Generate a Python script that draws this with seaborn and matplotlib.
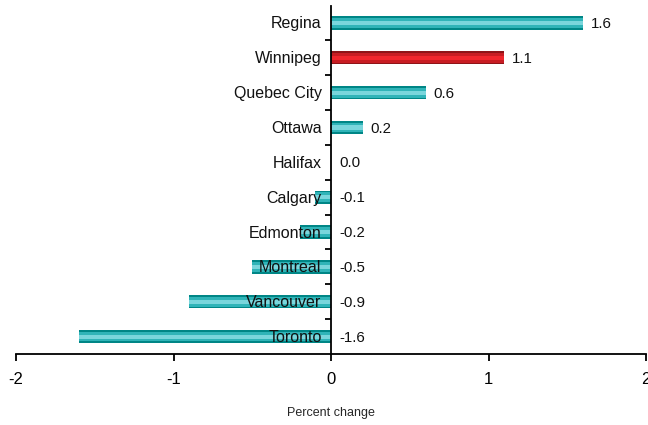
import matplotlib
matplotlib.use("Agg")
import matplotlib.pyplot as plt
import seaborn as sns
import numpy as np

cities = ["Regina", "Winnipeg", "Quebec City", "Ottawa", "Halifax",
          "Calgary", "Edmonton", "Montreal", "Vancouver", "Toronto"]
change = [1.6, 1.1, 0.6, 0.2, 0.0, -0.1, -0.2, -0.5, -0.9, -1.6]
highlight = "Winnipeg"
x_ticks = [-2, -1, 0, 1, 2]

sns.set_theme(style="white")
plt.rcParams["font.family"] = ["Liberation Sans", "DejaVu Sans"]

fig = plt.figure(figsize=(6.48, 4.25), dpi=100)
ax = fig.add_axes([0.0247, 0.167, 0.9723, 0.820])

# layered bars give the striped cylinder look
layers = [
    (0.38, "#008686", "#8e1418"),
    (0.28, "#30b4b8", "#c81d23"),
    (0.12, "#7ad6dc", "#f0262d"),
]
for width, teal, red in layers:
    pal = {c: (red if c == highlight else teal) for c in cities}
    sns.barplot(x=change, y=cities, hue=cities, palette=pal, orient="h",
                width=width, dodge=False, legend=False, ax=ax, saturation=1,
                order=cities, hue_order=cities, linewidth=0, edgecolor="none")

ax.set_xlim(-2, 2)
ax.set_ylim(len(cities) - 0.5, -0.5)
ax.set_xticks(x_ticks)
ax.set_xticklabels([str(t) for t in x_ticks], fontsize=12)
ax.set_xlabel("Percent change", fontsize=9, labelpad=14)
ax.set_ylabel("")

for s in ["top", "right"]:
    ax.spines[s].set_visible(False)
ax.spines["left"].set_position(("data", 0))
for s in ["left", "bottom"]:
    ax.spines[s].set_color("black")
    ax.spines[s].set_linewidth(1.3)

ax.tick_params(axis="x", which="major", direction="out", length=5, width=1.3,
               color="black", bottom=True, pad=8, labelcolor="black")
ax.set_yticks([])
ax.set_yticks(np.arange(len(cities) - 1) + 0.5, minor=True)
ax.tick_params(axis="y", which="minor", direction="out", length=4, width=1.3,
               color="black", left=True)

# city names sit just left of the zero line, over the bars
for i, c in enumerate(cities):
    ax.text(-0.06, i + 0.03, c, va="center", ha="right", fontsize=11.5,
            color="#111111", zorder=6)

for i, v in enumerate(change):
    ax.text(max(v, 0) + 0.05, i + 0.03, f"{v:.1f}", va="center", ha="left",
            fontsize=10.8, color="#111111", zorder=6)

fig.savefig("out.png", dpi=100)
